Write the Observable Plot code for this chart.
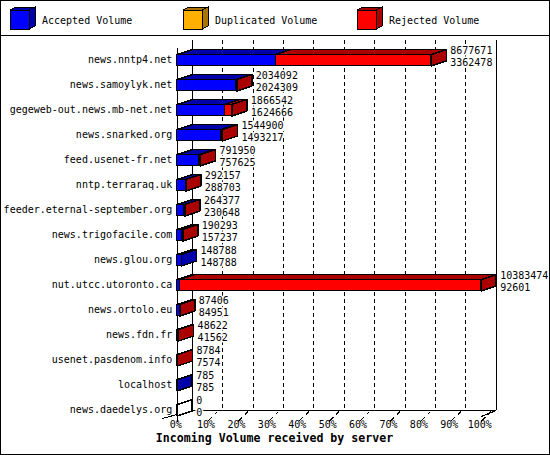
<!DOCTYPE html>
<html><head><meta charset="utf-8">
<script src="https://cdn.jsdelivr.net/npm/d3@7"></script>
<script src="https://cdn.jsdelivr.net/npm/@observablehq/plot@0.6"></script>
<style>
body{margin:0;background:#fff;}
#wrap{position:relative;width:550px;height:455px;box-sizing:border-box;border:1px solid #000;background:#fff;font-family:"DejaVu Sans Mono",monospace;}
#legend{height:34px;border-bottom:1px solid #000;}
#legend svg,#chart svg{display:block;}
</style></head><body>
<div id="wrap"><div id="legend"></div><div id="chart"></div></div>
<script>
// ---- data ----
const hosts = ["news.nntp4.net","news.samoylyk.net","gegeweb-out.news.mb-net.net","news.snarked.org","feed.usenet-fr.net","nntp.terraraq.uk","feeder.eternal-september.org","news.trigofacile.com","news.glou.org","nut.utcc.utoronto.ca","news.ortolo.eu","news.fdn.fr","usenet.pasdenom.info","localhost","news.daedelys.org"];
const totalVolume = [8677671,2034092,1866542,1544900,791950,292157,264377,190293,148788,10383474,87406,48622,8784,785,0];
const acceptedVolume = [3362478,2024309,1624666,1493217,757625,288703,230648,157237,148788,92601,84951,41562,7574,785,0];
const duplicatedVolume = [0,0,0,0,0,0,0,0,0,0,0,0,0,0,0];
const seriesNames = ["Accepted Volume","Duplicated Volume","Rejected Volume"];
const frontColors = ["#0000ff","#ffb000","#ff0000"];
const darkColors = ["#0000aa","#aa7400","#aa0000"];
const percentLabels = ["0%","10%","20%","30%","40%","50%","60%","70%","80%","90%","100%"];
const axisTitle = "Incoming Volume received by server";

// ---- legend ----
const legendOffsets = [0, 173, 347];
let lg = `<svg width="548" height="34" xmlns="http://www.w3.org/2000/svg" style="shape-rendering:crispEdges">`;
seriesNames.forEach((name, k) => {
  const o = legendOffsets[k];
  lg += `<g transform="translate(${o},0)">
    <polygon points="9,9 28,9 34,6 15,6" fill="${darkColors[k]}" stroke="#000"/>
    <polygon points="28,9 34,6 34,25 28,28" fill="${darkColors[k]}" stroke="#000"/>
    <rect x="9" y="9" width="19" height="19" fill="${frontColors[k]}" stroke="#000"/>
    <text x="41" y="23" font-family="DejaVu Sans Mono" font-size="10" fill="#000" style="text-rendering:optimizeSpeed">${name}</text>
  </g>`;
});
lg += `</svg>`;
document.getElementById("legend").innerHTML = lg;

// ---- geometry (pixels of the svg) ----
const W = 548, H = 418;
const XF0 = 175.7, XF1 = 479.7;   // front plane 0 .. max
const Y0 = 23.75, ROW = 25;       // first row centre, row pitch
const DX = 15, DY = 5, HALF = 5.75;
const xmax = d3.max(totalVolume);
const kx = xmax / (XF1 - XF0);
const yAt = py => (py - Y0) / ROW;  // inverse of y scale for layout lines

// ---- build faces from data ----
const fronts = [], polys = [];
let pid = 0;
hosts.forEach((h, i) => {
  const a = acceptedVolume[i], d = duplicatedVolume[i], t = totalVolume[i];
  const bounds = [0, a, a + d, t];
  const yt = i - HALF / ROW, yb = i + HALF / ROW, dyv = DY / ROW, dxv = DX * kx;
  let last = -1;
  for (let j = 0; j < 3; j++) {
    const s0 = bounds[j], s1 = bounds[j + 1];
    if (s1 > s0) {
      last = j;
      fronts.push({x1: s0, x2: s1, y1: yt, y2: yb, fill: frontColors[j]});
      const id = pid++;
      [[s0, yt], [s1, yt], [s1 + dxv, yt - dyv], [s0 + dxv, yt - dyv]]
        .forEach(([x, y]) => polys.push({id, x, y, fill: darkColors[j]}));
    }
  }
  const e = t, id = pid++;
  const sideFill = last >= 0 ? darkColors[last] : "#ffffff";
  [[e, yt], [e + dxv, yt - dyv], [e + dxv, yb - dyv], [e, yb]]
    .forEach(([x, y]) => polys.push({id, x, y, fill: sideFill}));
});
const rowsData = hosts.map((h, i) => ({i, total: totalVolume[i], accepted: acceptedVolume[i]}));
const tickVals = percentLabels.map((_, k) => xmax * k / 10);
const gridVals = tickVals.slice(1, -1);

const chart = Plot.plot({
  width: W, height: H,
  marginLeft: XF0, marginRight: W - XF1, marginTop: 4, marginBottom: 38,
  style: {fontFamily: "DejaVu Sans Mono", fontSize: "10px", background: "#fff", shapeRendering: "crispEdges"},
  x: {domain: [0, xmax], range: [XF0, XF1], axis: null},
  y: {domain: [0, 14], range: [Y0, Y0 + 14 * ROW], axis: null},
  color: {type: "identity"},
  marks: [
    // back wall gridlines
    Plot.ruleX(gridVals, {x: d => d, y1: yAt(4), y2: yAt(374), dx: DX, stroke: "#000", strokeDasharray: "4,3"}),
    Plot.ruleX([0, xmax], {x: d => d, y1: yAt(4), y2: yAt(374), dx: DX, stroke: "#000"}),
    Plot.ruleY([yAt(374)], {y: d => d, x1: 0, x2: xmax, dx: DX, stroke: "#000"}),
    Plot.link([0], {x1: -DX * kx, y1: yAt(382), x2: DX * kx, y2: yAt(374), stroke: "#000"}),
    Plot.link([0], {x1: xmax, y1: yAt(380), x2: xmax + DX * kx, y2: yAt(374), stroke: "#000"}),
    Plot.ruleX([0], {x: d => d, y1: yAt(12), y2: yAt(386), stroke: "#000"}),
    // floor ticks
    Plot.link(tickVals.slice(1), {x1: d => d, y1: yAt(385), x2: d => d + 10 * kx, y2: yAt(375), stroke: "#000", strokeDasharray: "6,4,4"}),
    // bars
    Plot.rect(fronts, {x1: "x1", x2: "x2", y1: "y1", y2: "y2", fill: "fill", stroke: "#000"}),
    Plot.line(polys, {x: "x", y: "y", z: "id", fill: "fill", stroke: "#000", curve: "linear-closed"}),
    // value labels
    Plot.text(rowsData, {x: "total", y: "i", text: d => `${d.total}\n${d.accepted}`, dx: DX + 4, dy: -4,
      textAnchor: "start", lineHeight: 1.15, fill: "#000", stroke: "#fff", strokeWidth: 3, paintOrder: "stroke"}),
    // axes
    Plot.axisY({ticks: d3.range(hosts.length), tickFormat: i => hosts[i], tickSize: 0, tickPadding: 5, label: null}),
    Plot.axisX({ticks: tickVals, tickFormat: (d, k) => percentLabels[k], tickSize: 0, tickPadding: 4.5, dx: -1.5, label: null}),
    Plot.text([axisTitle], {frameAnchor: "bottom", text: d => d, dy: 25.3, dx: 273 - (XF0 + XF1) / 2,
      fontWeight: "bold", fontSize: 11.6, fill: "#000"})
  ]
});
document.getElementById("chart").appendChild(chart);
</script>
</body></html>
